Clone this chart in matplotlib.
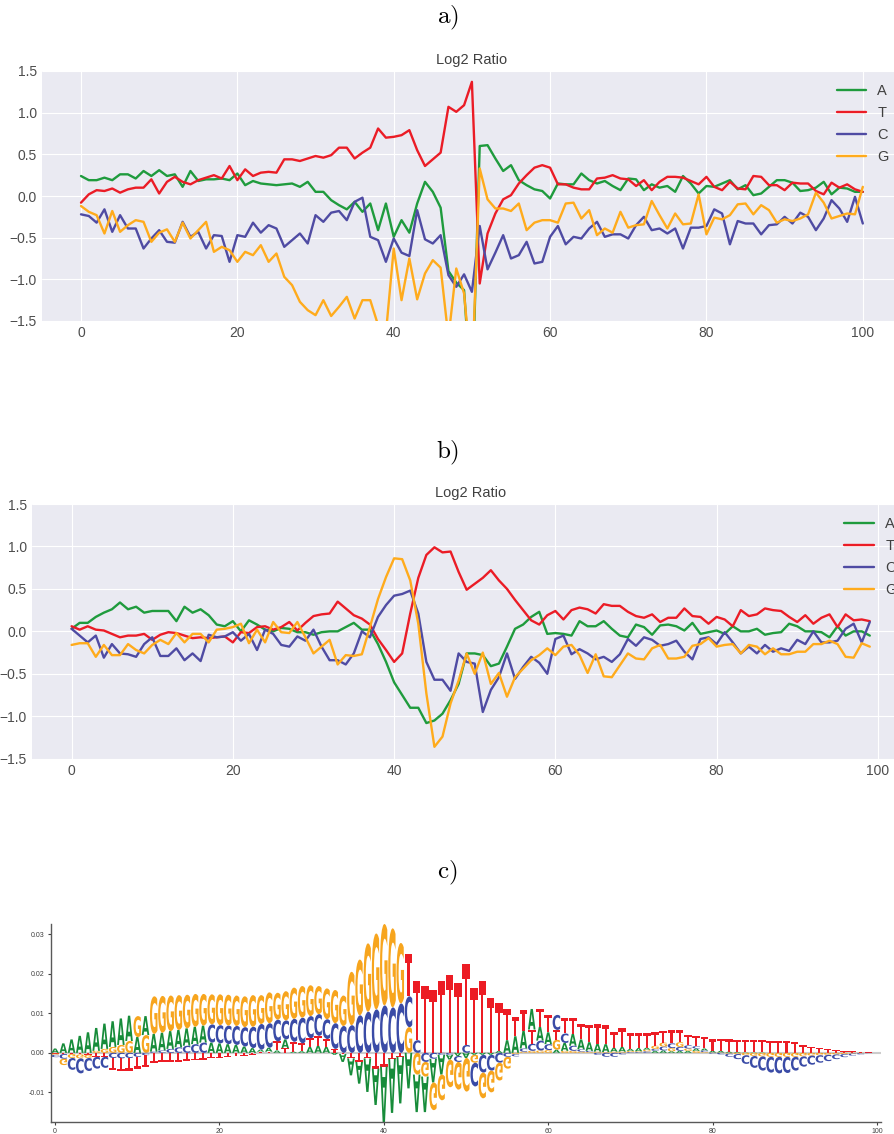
import numpy as np
import matplotlib
matplotlib.use("Agg")
import matplotlib.pyplot as plt
from matplotlib.textpath import TextPath
from matplotlib.patches import PathPatch
from matplotlib.font_manager import FontProperties
from matplotlib.transforms import Affine2D
from matplotlib.ticker import FormatStrFormatter

plt.style.use("seaborn-v0_8-darkgrid")
plt.rcParams["font.family"] = ["Liberation Sans", "DejaVu Sans"]
plt.rcParams["mathtext.fontset"] = "cm"

# ---- panel a: log2 ratio, positions 0..100
a_A = [0.24, 0.19, 0.19, 0.22, 0.19, 0.26, 0.26, 0.21, 0.30, 0.24,
       0.31, 0.24, 0.26, 0.11, 0.30, 0.18, 0.20, 0.20, 0.21, 0.19,
       0.27, 0.13, 0.18, 0.15, 0.14, 0.13, 0.14, 0.15, 0.11, 0.17,
       0.05, 0.05, -0.05, -0.11, -0.16, -0.07, -0.19, -0.09, -0.41, -0.09,
       -0.49, -0.29, -0.44, -0.09, 0.17, 0.05, -0.14, -0.90, -1.04, -1.13,
       -2.50, 0.60, 0.61, 0.45, 0.30, 0.37, 0.19, 0.13, 0.08, 0.06,
       -0.03, 0.15, 0.14, 0.14, 0.27, 0.19, 0.15, 0.18, 0.12, 0.07,
       0.21, 0.20, 0.07, 0.14, 0.10, 0.12, 0.05, 0.24, 0.15, 0.03,
       0.12, 0.11, 0.15, 0.19, 0.08, 0.13, 0.01, 0.03, 0.11, 0.19,
       0.19, 0.16, 0.06, 0.07, 0.10, 0.17, 0.02, 0.10, 0.09, 0.05,
       0.05]
a_T = [-0.08, 0.02, 0.07, 0.06, 0.09, 0.04, 0.08, 0.10, 0.10, 0.20,
       0.03, 0.17, 0.23, 0.17, 0.14, 0.19, 0.22, 0.25, 0.21, 0.36,
       0.19, 0.32, 0.24, 0.28, 0.29, 0.28, 0.44, 0.44, 0.42, 0.45,
       0.48, 0.46, 0.49, 0.58, 0.58, 0.45, 0.52, 0.58, 0.81, 0.70,
       0.71, 0.73, 0.79, 0.55, 0.36, 0.44, 0.52, 1.07, 1.01, 1.09,
       1.37, -1.05, -0.45, -0.21, -0.04, 0.01, 0.15, 0.25, 0.34, 0.37,
       0.34, 0.14, 0.14, 0.10, 0.08, 0.08, 0.21, 0.22, 0.25, 0.21,
       0.20, 0.12, 0.19, 0.07, 0.17, 0.23, 0.23, 0.22, 0.18, 0.14,
       0.23, 0.11, 0.07, 0.17, 0.09, 0.08, 0.24, 0.23, 0.13, 0.13,
       0.07, 0.16, 0.15, 0.15, 0.06, 0.02, 0.16, 0.10, 0.14, 0.08,
       0.05]
a_C = [-0.22, -0.24, -0.32, -0.16, -0.43, -0.23, -0.39, -0.39, -0.63, -0.51,
       -0.41, -0.55, -0.56, -0.31, -0.49, -0.43, -0.63, -0.47, -0.48, -0.79,
       -0.47, -0.49, -0.32, -0.44, -0.35, -0.39, -0.61, -0.53, -0.45, -0.57,
       -0.23, -0.31, -0.20, -0.18, -0.29, -0.07, -0.02, -0.49, -0.53, -0.79,
       -0.51, -0.68, -0.72, -0.17, -0.52, -0.57, -0.47, -0.95, -1.09, -0.94,
       -1.15, -0.36, -0.88, -0.68, -0.47, -0.75, -0.71, -0.55, -0.81, -0.79,
       -0.49, -0.36, -0.58, -0.49, -0.51, -0.39, -0.31, -0.49, -0.46, -0.46,
       -0.51, -0.35, -0.25, -0.41, -0.39, -0.45, -0.39, -0.63, -0.38, -0.38,
       -0.36, -0.16, -0.21, -0.58, -0.30, -0.33, -0.33, -0.46, -0.35, -0.34,
       -0.25, -0.33, -0.20, -0.25, -0.41, -0.27, -0.05, -0.15, -0.31, -0.01,
       -0.33]
a_G = [-0.12, -0.19, -0.23, -0.45, -0.18, -0.43, -0.35, -0.29, -0.31, -0.55,
       -0.44, -0.40, -0.55, -0.32, -0.51, -0.41, -0.31, -0.67, -0.61, -0.65,
       -0.79, -0.67, -0.71, -0.59, -0.79, -0.69, -0.97, -1.07, -1.27, -1.37,
       -1.43, -1.25, -1.44, -1.33, -1.21, -1.47, -1.25, -1.25, -1.55, -1.65,
       -0.63, -1.25, -0.75, -1.24, -0.93, -0.77, -0.86, -1.70, -0.87, -1.17,
       -2.20, 0.33, -0.04, -0.15, -0.15, -0.18, -0.09, -0.41, -0.32, -0.29,
       -0.29, -0.32, -0.09, -0.08, -0.27, -0.17, -0.47, -0.39, -0.44, -0.19,
       -0.38, -0.35, -0.34, -0.06, -0.23, -0.39, -0.21, -0.34, -0.33, 0.02,
       -0.46, -0.26, -0.28, -0.23, -0.10, -0.09, -0.22, -0.11, -0.17, -0.32,
       -0.28, -0.30, -0.27, -0.22, 0.04, -0.08, -0.27, -0.24, -0.21, -0.22,
       0.11]

# ---- panel b: log2 ratio, positions 0..99
b_A = [0.03, 0.10, 0.10, 0.17, 0.22, 0.26, 0.34, 0.26, 0.29, 0.22,
       0.24, 0.24, 0.24, 0.12, 0.29, 0.22, 0.26, 0.19, 0.08, 0.06,
       0.12, 0.00, 0.13, 0.08, 0.02, 0.00, 0.04, 0.03, -0.01, -0.01,
       -0.04, -0.01, 0.00, 0.00, 0.05, 0.10, 0.02, 0.02, -0.15, -0.36,
       -0.60, -0.75, -0.90, -0.90, -1.08, -1.05, -0.97, -0.81, -0.62, -0.26,
       -0.26, -0.28, -0.41, -0.38, -0.18, 0.03, 0.08, 0.17, 0.23, -0.03,
       -0.02, -0.03, -0.05, 0.12, 0.06, 0.06, 0.12, 0.03, -0.05, -0.07,
       0.08, 0.05, -0.04, 0.07, 0.08, 0.06, 0.01, 0.10, -0.03, -0.01,
       0.01, -0.03, 0.06, 0.00, 0.00, 0.03, -0.04, -0.02, -0.01, 0.09,
       0.06, 0.00, 0.00, -0.01, -0.07, 0.06, -0.05, 0.00, 0.00, -0.05]
b_T = [0.06, 0.02, 0.06, 0.02, 0.01, -0.03, -0.07, -0.05, -0.05, -0.03,
       -0.10, -0.04, -0.01, -0.02, -0.05, -0.08, -0.07, -0.08, -0.07, -0.06,
       -0.13, -0.01, -0.02, 0.05, 0.06, 0.02, 0.05, 0.11, 0.01, 0.10,
       0.18, 0.20, 0.21, 0.35, 0.27, 0.19, 0.15, 0.08, -0.09, -0.22,
       -0.36, -0.26, 0.21, 0.63, 0.90, 0.99, 0.93, 0.94, 0.70, 0.49,
       0.56, 0.63, 0.72, 0.60, 0.50, 0.37, 0.25, 0.13, 0.08, 0.19,
       0.24, 0.14, 0.25, 0.28, 0.26, 0.21, 0.32, 0.30, 0.30, 0.23,
       0.18, 0.16, 0.20, 0.11, 0.16, 0.16, 0.27, 0.18, 0.17, 0.09,
       0.17, 0.14, 0.06, 0.25, 0.18, 0.20, 0.27, 0.25, 0.24, 0.17,
       0.11, 0.19, 0.09, 0.16, 0.20, 0.05, 0.20, 0.13, 0.14, 0.12]
b_C = [0.03, -0.05, -0.13, -0.05, -0.31, -0.15, -0.26, -0.27, -0.30, -0.15,
       -0.07, -0.29, -0.29, -0.20, -0.34, -0.26, -0.35, -0.04, -0.07, -0.06,
       -0.01, -0.11, -0.03, -0.22, 0.02, -0.03, -0.16, -0.18, -0.06, -0.11,
       0.02, -0.18, -0.34, -0.34, -0.39, -0.26, 0.00, -0.07, 0.17, 0.31,
       0.42, 0.44, 0.48, 0.21, -0.36, -0.57, -0.57, -0.70, -0.26, -0.36,
       -0.38, -0.95, -0.69, -0.54, -0.26, -0.56, -0.42, -0.30, -0.37, -0.50,
       -0.09, -0.05, -0.27, -0.21, -0.26, -0.33, -0.30, -0.36, -0.27, -0.09,
       -0.17, -0.07, -0.10, -0.17, -0.15, -0.11, -0.24, -0.33, -0.09, -0.07,
       -0.15, -0.01, -0.13, -0.26, -0.18, -0.26, -0.16, -0.24, -0.20, -0.23,
       -0.10, -0.15, 0.00, -0.13, -0.13, -0.11, 0.03, 0.09, -0.13, 0.11]
b_G = [-0.16, -0.14, -0.14, -0.30, -0.16, -0.28, -0.28, -0.15, -0.22, -0.26,
       -0.16, -0.10, -0.15, -0.02, -0.13, -0.03, -0.03, -0.13, 0.02, 0.03,
       0.05, 0.09, -0.14, 0.02, -0.13, 0.11, -0.01, -0.02, 0.11, -0.07,
       -0.26, -0.18, -0.10, -0.39, -0.28, -0.29, -0.27, 0.05, 0.38, 0.64,
       0.86, 0.85, 0.60, 0.09, -0.73, -1.36, -1.24, -0.85, -0.58, -0.26,
       -0.50, -0.25, -0.62, -0.49, -0.77, -0.54, -0.44, -0.34, -0.28, -0.20,
       -0.28, -0.18, -0.16, -0.28, -0.49, -0.27, -0.53, -0.54, -0.40, -0.26,
       -0.32, -0.33, -0.20, -0.16, -0.32, -0.32, -0.30, -0.17, -0.15, -0.08,
       -0.18, -0.16, -0.15, -0.26, -0.16, -0.18, -0.27, -0.20, -0.27, -0.27,
       -0.24, -0.24, -0.15, -0.15, -0.11, -0.15, -0.30, -0.31, -0.14, -0.18]

# ---- panel c: logo weights (units of 1e-3), positions 0..99
logo_A = [1.1, 2.4, 3.4, 4.3, 5.2, 5.8, 6.4, 6.5, 6.7, 6.4,
          4.0, 4.8, 4.5, 4.5, 4.5, 4.4, 4.4, 4.4, 4.3, 2.6,
          2.4, 2.2, 2.0, 1.6, 1.2, 0.5, 1.0, 0.6, 2.2, 0.3,
          0.4, 1.5, 1.8, 1.5, -0.5, -2.0, -4.3, -5.5, -8.5, -9.2,
          -14.4, -13.7, -11.8, -9.0, -9.5, -9.0, -6.0, -5.0, -1.2, -0.8,
          -1.3, -0.5, -0.5, -0.5, 0.5, 3.2, 4.2, 4.5, 5.2, 3.5,
          3.0, 0.8, 2.0, 3.0, 2.5, 2.2, 2.0, 2.0, 1.0, 1.2,
          0.5, 0.8, 0.5, 0.5, 0.6, 0.4, 0.5, 0.5, 0.6, 0.5,
          0.4, 0.4, 0.3, 0.2, 0.1, 0.1, 0.1, 0.0, 0.0, 0.0,
          0.0, 0.0, 0.0, 0.0, 0.0, 0.0, 0.0, 0.0, 0.0, 0.0]
logo_C = [-0.6, -1.2, -3.0, -3.8, -3.3, -3.0, -2.8, -1.3, -1.4, -1.3,
          -1.0, -0.6, 0.3, 0.6, 1.0, 1.4, 1.8, 2.2, 2.6, 4.6,
          4.6, 4.7, 4.8, 4.9, 5.4, 6.5, 6.2, 5.5, 4.8, 5.8,
          6.5, 5.6, 5.5, 5.0, 6.5, 6.8, 7.0, 9.5, 10.4, 11.0,
          12.0, 11.5, 12.5, 7.8, 3.2, -2.3, -1.5, -0.5, -0.5, -1.5,
          2.0, -6.0, -4.5, -4.0, -2.5, -1.0, -0.6, 0.8, 1.8, 2.5,
          1.5, 3.8, 2.4, 1.3, 0.6, 0.3, -0.5, -1.0, -1.0, -0.4,
          0.2, 0.2, 0.4, 0.5, 1.0, 1.2, 1.0, 0.8, 0.6, 0.4,
          -0.2, -0.4, -0.8, -1.3, -2.2, -3.0, -3.6, -4.0, -4.2, -4.1,
          -3.5, -2.6, -2.3, -1.9, -1.6, -1.2, -0.8, -0.5, -0.3, -0.1]
logo_G = [-0.3, -1.6, -1.0, -1.0, -0.8, 0.5, 1.0, 1.5, 2.0, 3.0,
          5.3, 4.5, 9.5, 9.3, 9.0, 8.8, 8.5, 8.3, 8.0, 7.6,
          7.8, 7.8, 7.7, 7.8, 8.0, 7.3, 7.8, 6.8, 7.4, 7.9,
          8.0, 7.8, 7.1, 7.8, 8.4, 7.7, 13.5, 14.1, 17.3, 19.2,
          20.6, 20.0, 15.3, 6.5, -5.5, -3.7, -7.0, -6.5, -7.0, -7.0,
          -8.5, -2.0, -6.5, -5.5, -4.5, -3.0, -0.3, 0.3, 0.5, 0.6,
          0.7, 2.5, 0.5, 0.5, 0.3, 0.2, 0.3, 0.2, 0.3, 0.3,
          0.3, 0.2, 0.4, 0.8, 1.0, 0.8, 1.2, 0.6, 0.5, 0.2,
          0.1, 0.1, -0.2, -0.3, -0.6, -0.8, -0.9, -1.0, -1.0, -1.0,
          -1.0, -0.9, -0.7, -0.6, -0.5, -0.4, -0.3, -0.2, -0.1, 0.0]
logo_T = [-0.2, -0.3, -0.3, -0.4, -0.5, -1.0, -1.0, -3.0, -3.3, -3.2,
          -3.0, -3.0, -2.5, -2.2, -2.4, -2.2, -2.0, -1.8, -1.7, -1.4,
          -1.2, -1.0, -0.9, -0.7, -0.5, 0.3, 0.3, 2.3, 1.2, 2.5,
          2.0, 2.2, 2.5, 2.0, 1.0, -0.3, -1.4, -2.3, -1.4, -4.0,
          -3.5, -1.5, -1.0, 10.6, 14.9, 17.0, 15.9, 18.1, 19.7, 17.7,
          20.6, 16.5, 18.1, 14.0, 12.0, 8.0, 4.9, 5.2, 3.6, 4.6,
          4.5, 2.5, 4.0, 3.9, 4.0, 4.3, 4.9, 4.8, 4.0, 4.7,
          3.9, 3.7, 3.7, 3.4, 3.0, 3.3, 3.0, 2.5, 2.5, 3.0,
          2.9, 3.0, 3.1, 3.1, 3.2, 3.2, 3.2, 3.1, 3.1, 3.0,
          2.8, 1.9, 1.6, 1.2, 1.0, 0.7, 0.4, 0.4, 0.2, 0.1]

line_colors = {"A": "#1f9b3d", "T": "#eb1c26", "C": "#4f4ba3", "G": "#ffab1c"}
logo_colors = {"A": "#178c3a", "C": "#3a4ba6", "G": "#f7a51e", "T": "#ec1c24"}

W, H = 895, 1134
fig = plt.figure(figsize=(W / 100, H / 100), dpi=100)


def ratio_panel(rect, series, xlim):
    ax = fig.add_axes(rect)
    for name, vals in series:
        ax.plot(np.arange(len(vals)), vals, color=line_colors[name],
                lw=1.7, label=name)
    ax.set_xlim(*xlim)
    ax.set_ylim(-1.5, 1.5)
    ax.set_xticks([0, 20, 40, 60, 80, 100])
    ax.set_yticks([-1.5, -1.0, -0.5, 0.0, 0.5, 1.0, 1.5])
    ax.tick_params(labelsize=10, colors="0.3", length=0)
    ax.set_title("Log2 Ratio", fontsize=10.5, color="0.25", pad=5)
    ax.legend(loc="upper right", frameon=False, fontsize=10.5,
              handlelength=2.0, labelspacing=0.55, labelcolor="0.25")
    return ax


ratio_panel([41.9 / W, 1 - 321 / H, 860 / W, 250 / H],
            [("A", a_A), ("T", a_T), ("C", a_C), ("G", a_G)], (-5, 105))
ratio_panel([31.7 / W, 1 - 758.7 / H, 878 / W, 254.7 / H],
            [("A", b_A), ("T", b_T), ("C", b_C), ("G", b_G)], (-4.95, 103.95))

# ---- logo panel
axc = fig.add_axes([51 / W, 1 - 1122 / H, 830 / W, 198 / H])
axc.set_facecolor("white")
axc.grid(False)
for s in ["top", "right"]:
    axc.spines[s].set_visible(False)
for s in ["left", "bottom"]:
    axc.spines[s].set_visible(True)
    axc.spines[s].set_color("0.35")
    axc.spines[s].set_linewidth(1.0)
axc.axhline(0, color="0.8", lw=1.5, zorder=0)

fp = FontProperties(family="DejaVu Sans", weight="bold")
glyphs = {ch: TextPath((0, 0), ch, size=1, prop=fp) for ch in "ACGT"}


def draw_letter(ax, ch, x, y0, h, color, width=0.92):
    path = glyphs[ch]
    ext = path.get_extents()
    tr = Affine2D().translate(-ext.x0, -ext.y0).scale(width / ext.width, abs(h) / ext.height)
    if h < 0:
        tr = tr.scale(1, -1)  # letters below zero are flipped
    tr = tr.translate(x - width / 2, y0)
    ax.add_patch(PathPatch(tr.transform_path(path), fc=color, ec="none", lw=0))


logo = {"A": logo_A, "C": logo_C, "G": logo_G, "T": logo_T}
for i in range(len(logo_A)):
    vals = [(ch, logo[ch][i] * 1e-3) for ch in "ACGT"]
    pos = sorted([v for v in vals if v[1] > 0], key=lambda v: v[1])
    neg = sorted([v for v in vals if v[1] < 0], key=lambda v: -v[1])
    y = 0.0
    for ch, v in pos:
        draw_letter(axc, ch, i, y, v, logo_colors[ch])
        y += v
    y = 0.0
    for ch, v in neg:
        draw_letter(axc, ch, i, y, v, logo_colors[ch])
        y += v

axc.set_xlim(-0.5, 100.5)
axc.set_ylim(-0.0175, 0.0326)
axc.set_xticks([0, 20, 40, 60, 80, 100])
axc.set_yticks([-0.01, 0.0, 0.01, 0.02, 0.03])
axc.yaxis.set_major_formatter(FormatStrFormatter("%.2f"))
axc.tick_params(labelsize=5, colors="0.25", length=2.5, width=0.8, pad=2)

# ---- panel captions
for label, yy in [("a)", 18), ("b)", 453), ("c)", 873)]:
    fig.text(0.5, 1 - yy / H, r"$\mathrm{" + label + "}$", ha="center",
             va="center", fontsize=18, color="black")

fig.savefig("out.png", dpi=100)
